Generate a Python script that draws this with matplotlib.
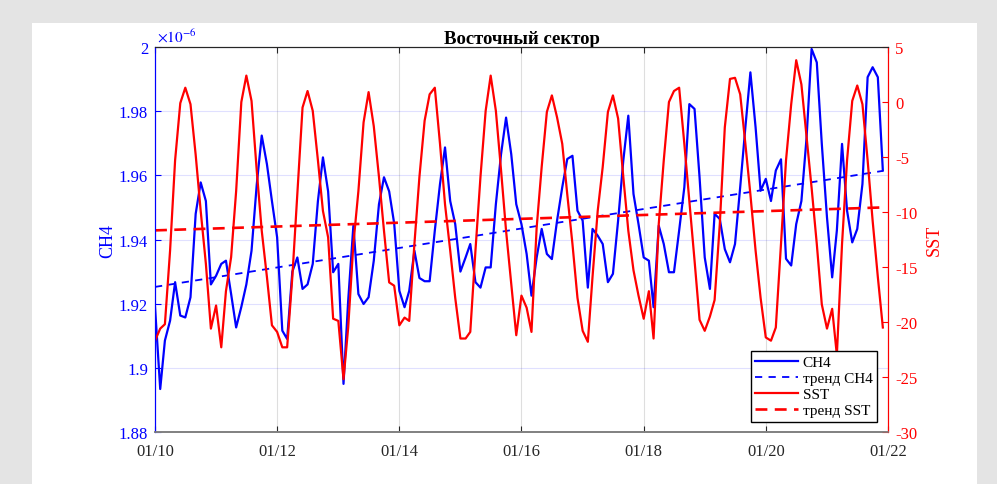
import matplotlib
matplotlib.use('Agg')
import matplotlib.pyplot as plt
import matplotlib.dates as mdates
import numpy as np
import pandas as pd
from matplotlib.patches import Rectangle
from matplotlib.ticker import FuncFormatter

plt.rcParams['font.family'] = ['Liberation Serif', 'DejaVu Serif']
plt.rcParams['mathtext.fontset'] = 'stix'
plt.rcParams['axes.unicode_minus'] = False

# monthly values, Jan 2010 .. Dec 2021
ch4 = [1.9189, 1.8934, 1.9085, 1.9147, 1.9267, 1.9163, 1.9157, 1.9220, 1.9480, 1.9578, 1.9520, 1.9260,
       1.9287, 1.9324, 1.9334, 1.9230, 1.9126, 1.9190, 1.9260, 1.9365, 1.9570, 1.9724, 1.9635, 1.9520,
       1.9407, 1.9116, 1.9090, 1.9300, 1.9344, 1.9246, 1.9260, 1.9324, 1.9520, 1.9656, 1.9550, 1.9298,
       1.9324, 1.8950, 1.9210, 1.9443, 1.9230, 1.9199, 1.9220, 1.9334, 1.9510, 1.9594, 1.9550, 1.9450,
       1.9240, 1.9189, 1.9240, 1.9365, 1.9280, 1.9270, 1.9270, 1.9428, 1.9573, 1.9687, 1.9520, 1.9448,
       1.9300, 1.9344, 1.9386, 1.9267, 1.9250, 1.9313, 1.9313, 1.9510, 1.9666, 1.9780, 1.9666, 1.9510,
       1.9448, 1.9355, 1.9225, 1.9344, 1.9433, 1.9355, 1.9339, 1.9459, 1.9563, 1.9651, 1.9661, 1.9490,
       1.9459, 1.9250, 1.9433, 1.9412, 1.9386, 1.9267, 1.9293, 1.9459, 1.9646, 1.9786, 1.9542, 1.9448,
       1.9344, 1.9334, 1.9189, 1.9443, 1.9386, 1.9298, 1.9298, 1.9428, 1.9563, 1.9822, 1.9807, 1.9594,
       1.9344, 1.9246, 1.9480, 1.9464, 1.9370, 1.9329, 1.9386, 1.9563, 1.9750, 1.9921, 1.9750, 1.9552,
       1.9589, 1.9520, 1.9615, 1.9650, 1.9340, 1.9319, 1.9448, 1.9520, 1.9718, 1.9994, 1.9952, 1.9698,
       1.9469, 1.9282, 1.9428, 1.9698, 1.9490, 1.9391, 1.9433, 1.9573, 1.9906, 1.9937, 1.9906, 1.9615]

sst = [-21.7, -20.6, -20.2, -13.5, -5.3, -0.1, 1.3, -0.2, -4.8, -9.9, -14.7, -20.6,
       -18.5, -22.3, -17.2, -14.1, -8.1, 0.0, 2.4, 0.1, -6.2, -11.7, -15.9, -20.3,
       -20.9, -22.3, -22.3, -15.9, -8.4, -0.5, 1.0, -0.8, -5.3, -9.9, -12.3, -19.7,
       -19.9, -25.2, -20.5, -12.9, -8.1, -1.85, 0.9, -2.2, -6.8, -11.7, -16.4, -16.7,
       -20.3, -19.6, -19.9, -12.9, -6.8, -1.7, 0.7, 1.3, -3.8, -9.3, -13.5, -17.8,
       -21.5, -21.5, -20.9, -13.5, -6.8, -0.8, 2.4, -0.8, -6.2, -11.7, -16.5, -21.2,
       -17.6, -18.7, -20.9, -11.4, -5.9, -0.9, 0.6, -1.4, -3.8, -8.4, -12.9, -17.8,
       -20.8, -21.8, -15.9, -9.9, -5.9, -0.9, 0.6, -1.5, -6.8, -11.7, -15.3, -17.6,
       -19.7, -17.2, -21.5, -11.1, -5.3, 0.0, 1.0, 1.3, -3.8, -9.0, -14.4, -19.8,
       -20.8, -19.5, -18.0, -11.1, -2.3, 2.1, 2.2, 0.7, -3.8, -8.4, -13.5, -17.8,
       -21.4, -21.7, -20.5, -12.9, -5.3, -0.2, 3.8, 1.6, -3.2, -7.8, -12.9, -18.4,
       -20.6, -18.8, -23.0, -12.9, -5.3, 0.1, 1.5, -0.2, -5.3, -10.8, -15.9, -20.5]

dates = pd.date_range('2010-01-01', periods=len(ch4), freq='MS')
tick_years = [2010, 2012, 2014, 2016, 2018, 2020, 2022]

# linear trends
t = mdates.date2num(dates)
ch4_trend = np.polyval(np.polyfit(t, ch4, 1), t)
sst_trend = np.polyval(np.polyfit(t, sst, 1), t)

fig = plt.figure(figsize=(9.97, 4.85), dpi=100, facecolor='#e4e4e4')
# white panel behind the axes
fig.add_artist(Rectangle((0.0321, 0), 0.948, 0.9505, transform=fig.transFigure,
                         facecolor='white', edgecolor='none', zorder=-10))
ax = fig.add_axes([0.1555, 0.1072, 0.7352, 0.7938])
ax.set_facecolor('white')

l1, = ax.plot(dates, ch4, color='blue', lw=1.6, label='CH4')
l2, = ax.plot(dates, ch4_trend, color='blue', lw=1.3, ls=(0, (4, 3.5)), label='тренд CH4')
ax.set_ylim(1.88, 2.0)
ax.set_yticks([1.88, 1.9, 1.92, 1.94, 1.96, 1.98, 2.0])
ax.yaxis.set_major_formatter(FuncFormatter(lambda v, p: '%g' % round(v, 4)))
ax.set_ylabel('CH4', color='blue', fontsize=13, labelpad=2)
ax.text(0.003, 1.006, r'$\times10^{-6}$', transform=ax.transAxes, color='blue',
        fontsize=11, ha='left', va='bottom')

ax2 = ax.twinx()
l3, = ax2.plot(dates, sst, color='red', lw=1.6, label='SST')
l4, = ax2.plot(dates, sst_trend, color='red', lw=1.9, ls=(0, (4.5, 2.8)), label='тренд SST')
ax2.set_ylim(-30, 5)
ax2.set_yticks(np.arange(-30, 6, 5))
ax2.yaxis.set_major_formatter(FuncFormatter(lambda v, p: '%g' % v))
ax2.set_ylabel('SST', color='red', fontsize=13, labelpad=6)

ax.set_xlim(pd.Timestamp('2010-01-01'), pd.Timestamp('2022-01-01'))
ax.set_xticks([pd.Timestamp(f'{y}-01-01') for y in tick_years])
ax.xaxis.set_major_formatter(mdates.DateFormatter('%m/%y'))

ax.grid(axis='y', color='blue', alpha=0.12, lw=0.8)
ax.grid(axis='x', color='0.15', alpha=0.15, lw=0.8)

ax.tick_params(axis='x', direction='in', top=True, length=4, labelsize=12, colors='#262626', pad=8)
ax.tick_params(axis='y', direction='in', length=4, labelsize=12, colors='blue', pad=5)
ax2.tick_params(axis='y', direction='in', length=4, labelsize=12, colors='red', pad=5)
for a in (ax, ax2):
    a.spines['top'].set_color('#262626')
    a.spines['bottom'].set_color('#808080')
    a.spines['bottom'].set_linewidth(1.2)
ax.spines['left'].set_color('blue')
ax2.spines['left'].set_color('blue')
ax2.spines['right'].set_color('red')
ax.spines['right'].set_color('red')

ax.set_title('Восточный сектор', fontweight='bold', fontsize=13.5, pad=3)

ax2.legend([l1, l2, l3, l4], [l.get_label() for l in (l1, l2, l3, l4)],
           loc='lower right', bbox_to_anchor=(0.985, 0.026), borderaxespad=0,
           fancybox=False, edgecolor='black', framealpha=1, fontsize=11,
           handlelength=2.8, handletextpad=0.3, labelspacing=0.15, borderpad=0.3)

fig.savefig('out.png', dpi=100, facecolor=fig.get_facecolor())
